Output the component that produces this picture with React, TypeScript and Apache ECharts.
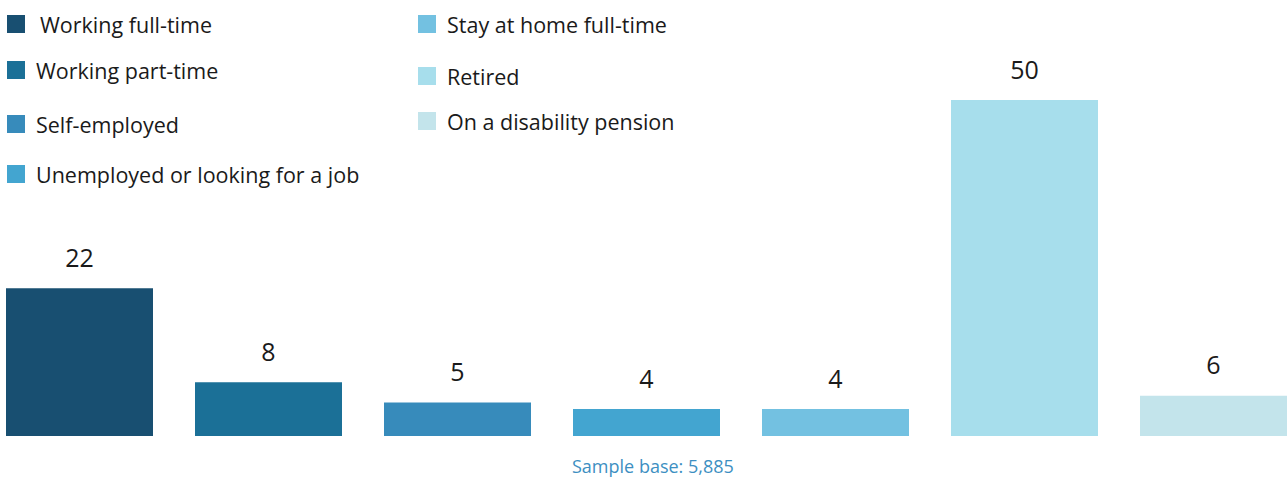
import React, { useEffect, useRef } from "react";
import * as echarts from "echarts";

const categories = [
  "Working full-time",
  "Working part-time",
  "Self-employed",
  "Unemployed or looking for a job",
  "Stay at home full-time",
  "Retired",
  "On a disability pension",
];
const values = [22, 8, 5, 4, 4, 50, 6];
const colors = ["#184f71", "#1b7097", "#378bbb", "#43a5d0", "#73c1e1", "#a7deec", "#c3e4eb"];
const sampleBase = "Sample base: 5,885";

// chart is shifted left by OFFSET so that the first band starts off-page
const OFFSET = 15;
// legend placement (page coords): [left, top, textPadLeft]
const legendPos: [number, number, number][] = [
  [7, 13, 10],
  [7, 59, 6],
  [7, 113, 6],
  [7, 163, 6],
  [418, 13, 6],
  [418, 65, 6],
  [418, 110, 6],
];

export default function App() {
  const ref = useRef<HTMLDivElement>(null);
  useEffect(() => {
    if (!ref.current) return;
    const chart = echarts.init(ref.current, null, { renderer: "svg" });
    const font = "'Open Sans', 'Noto Sans', sans-serif";
    const series = categories.map((name, i) => ({
      name,
      type: "bar",
      stack: "all",
      barWidth: 147,
      itemStyle: { color: colors[i] },
      label: {
        show: true,
        position: "top",
        distance: 19,
        color: "#1a1a1a",
        fontSize: 25,
        fontFamily: font,
      },
      data: values.map((v, j) => (j === i ? v : "-")),
    }));
    const legends = categories.map((name, i) => ({
      data: [name],
      left: legendPos[i][0] + OFFSET,
      top: legendPos[i][1],
      padding: 0,
      orient: "vertical",
      icon: "rect",
      itemWidth: 18,
      itemHeight: 18,
      selectedMode: false,
      textStyle: {
        color: "#1a1a1a",
        fontSize: 21.5,
        fontFamily: font,
        lineHeight: 12,
        padding: [0, 0, 0, legendPos[i][2]],
      },
    }));
    chart.setOption({
      animation: false,
      legend: legends,
      grid: { left: 0, right: 0, top: 100, bottom: 44 },
      xAxis: {
        type: "category",
        data: categories,
        axisLine: { show: false },
        axisTick: { show: false },
        axisLabel: { show: false },
      },
      yAxis: {
        type: "value",
        min: 0,
        max: 50,
        show: false,
        splitLine: { show: false },
      },
      graphic: [
        {
          type: "text",
          left: 572 + OFFSET,
          top: 457,
          style: {
            text: sampleBase,
            fill: "#3d8fc2",
            fontSize: 18,
            fontFamily: font,
          },
        },
      ],
      series,
    });
    return () => chart.dispose();
  }, []);
  return (
    <div style={{ position: "absolute", left: 0, top: 0, width: 1287, height: 480, overflow: "hidden" }}>
      <div
        ref={ref}
        style={{ position: "absolute", left: -OFFSET, top: 0, width: 1323, height: 480 }}
      />
    </div>
  );
}
